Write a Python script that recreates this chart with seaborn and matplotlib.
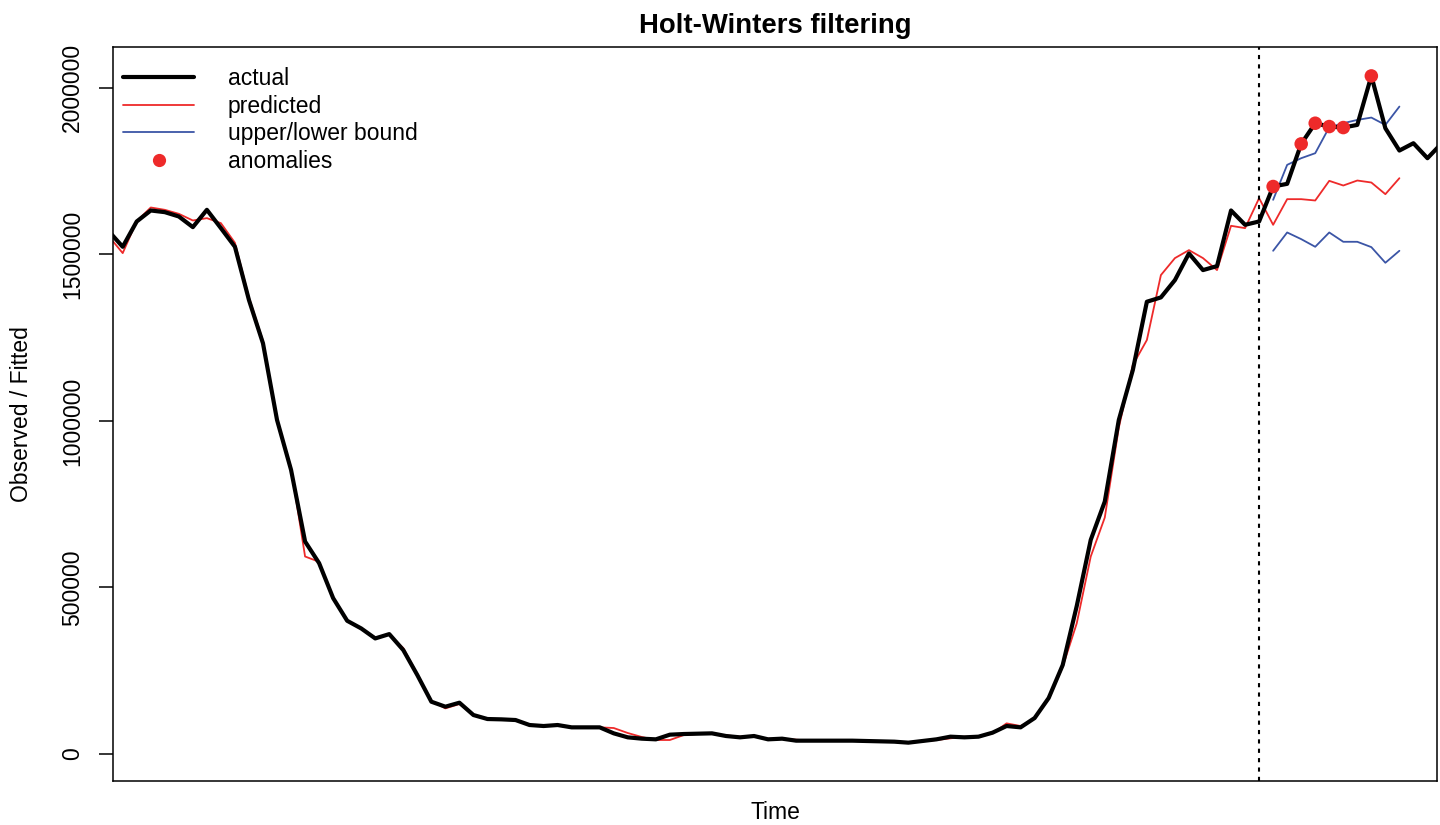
import matplotlib
matplotlib.use("Agg")
import matplotlib.pyplot as plt
from matplotlib.lines import Line2D
import seaborn as sns
import pandas as pd

# ---------------- data ----------------
actual = [
    1570000, 1523000, 1599000, 1632000, 1627000, 1614000, 1582000, 1634000, 1579000, 1523000,
    1363000, 1233000, 1003000, 853000, 638000, 573000, 468000, 400000, 377000, 347000,
    360000, 312000, 237000, 157000, 142000, 154000, 117000, 105000, 104000, 102000,
    87000, 84000, 87000, 80000, 80000, 80000, 62000, 50000, 46000, 44000,
    58000, 60000, 61000, 62000, 54000, 50000, 54000, 44000, 46000, 40000,
    40000, 40000, 40000, 40000, 39000, 38000, 37000, 34000, 39000, 44000,
    52000, 50000, 52000, 64000, 84000, 80000, 108000, 168000, 267000, 444000,
    643000, 758000, 1003000, 1153000, 1358000, 1371000, 1423000, 1503000, 1453000, 1465000,
    1632000, 1589000, 1599000, 1704000, 1712000, 1832000, 1894000, 1884000, 1881000, 1889000,
    2036000, 1879000, 1812000, 1834000, 1789000, 1833000,
]
predicted = [
    1555000, 1504000, 1600000, 1641000, 1634000, 1622000, 1602000, 1609000, 1594000, 1535000,
    1370000, 1240000, 1000000, 860000, 593000, 577000, 470000, 402000, 375000, 350000,
    358000, 318000, 240000, 160000, 137000, 150000, 118000, 106000, 104000, 101000,
    88000, 84000, 86000, 81000, 80000, 80000, 78000, 63000, 51000, 42000,
    42000, 57000, 60000, 61000, 56000, 52000, 53000, 46000, 45000, 43000,
    40000, 40000, 40000, 40000, 39000, 38000, 37000, 35000, 38000, 42000,
    47000, 52000, 51000, 62000, 92000, 84000, 106000, 165000, 262000, 392000,
    593000, 710000, 980000, 1168000, 1243000, 1438000, 1489000, 1513000, 1489000, 1453000,
    1586000, 1579000, 1669000, 1589000, 1666000, 1666000, 1662000, 1721000, 1707000, 1722000,
    1716000, 1681000, 1729000,
]
upper = [1664000, 1769000, 1789000, 1804000, 1882000, 1894000, 1904000, 1911000, 1889000, 1944000]
lower = [1511000, 1566000, 1546000, 1523000, 1566000, 1538000, 1538000, 1522000, 1475000, 1511000]
bound_start = 83          # first time index with bounds
forecast_start = 82       # dotted line position
anomaly_idx = [83, 85, 86, 87, 88, 90]
yticks = [0, 500000, 1000000, 1500000, 2000000]
ytick_labels = ["0", "500000", "1000000", "1500000", "2000000"]

time_idx = list(range(len(actual)))
df_act = pd.DataFrame({"t": time_idx, "v": actual})
df_pred = pd.DataFrame({"t": time_idx[:len(predicted)], "v": predicted})
bt = time_idx[bound_start:bound_start + len(upper)]
df_up = pd.DataFrame({"t": bt, "v": upper})
df_lo = pd.DataFrame({"t": bt, "v": lower})
df_an = pd.DataFrame({"t": anomaly_idx, "v": [actual[i] for i in anomaly_idx]})

RED = "#EE2A2A"
BLUE = "#3B55A6"

# ---------------- figure ----------------
sns.set_theme(style="white")
plt.rcParams["font.family"] = ["Liberation Sans", "DejaVu Sans"]
plt.rcParams["text.color"] = "black"
plt.rcParams["axes.labelcolor"] = "black"
plt.rcParams["xtick.color"] = "black"
plt.rcParams["ytick.color"] = "black"

W, H = 1440, 825
fig = plt.figure(figsize=(W / 100, H / 100), dpi=100)
L, R, T, B = 113.3, 1437.0, 47.3, 780.7
ax = fig.add_axes([L / W, (H - B) / H, (R - L) / W, (B - T) / H])

sns.lineplot(data=df_pred, x="t", y="v", color=RED, linewidth=1.3, sort=False, estimator=None, ax=ax)
sns.lineplot(data=df_up, x="t", y="v", color=BLUE, linewidth=1.3, sort=False, estimator=None, ax=ax)
sns.lineplot(data=df_lo, x="t", y="v", color=BLUE, linewidth=1.3, sort=False, estimator=None, ax=ax)
sns.lineplot(data=df_act, x="t", y="v", color="black", linewidth=3.0, sort=False, estimator=None, ax=ax)
sns.scatterplot(data=df_an, x="t", y="v", color=RED, s=95, edgecolor="none", ax=ax, zorder=5)
ax.axvline(forecast_start, color="black", linewidth=1.5, linestyle=(0, (2, 2.5)))

ax.set_xlim(0.33, 94.68)
ax.set_ylim(-80200, 2122000)
ax.set_xticks([])
ax.set_yticks(yticks)
ax.set_yticklabels(ytick_labels, rotation=90, va="center", fontsize=16.5, color="black")
ax.tick_params(axis="y", left=True, length=10, width=1.1, direction="out", pad=11, colors="black")

for s in ax.spines.values():
    s.set_color("black")
    s.set_linewidth(1.1)

ax.set_title("Holt-Winters filtering", fontsize=19.8, fontweight="bold", pad=10, color="black")
ax.set_xlabel("Time", fontsize=16.5, color="black")
ax.set_ylabel("Observed / Fitted", fontsize=16.5, color="black")
ax.xaxis.set_label_coords(0.5, (B - 801) / (B - T))
ax.yaxis.set_label_coords((33 - L) / (R - L), 0.5)

handles = [
    Line2D([], [], color="black", linewidth=3.0),
    Line2D([], [], color=RED, linewidth=1.3),
    Line2D([], [], color=BLUE, linewidth=1.3),
    Line2D([], [], color=RED, marker="o", markersize=9.5, linestyle="none", markeredgewidth=0),
]
labels = ["actual", "predicted", "upper/lower bound", "anomalies"]
ax.legend(handles, labels, loc="upper left", bbox_to_anchor=((123 - L) / (R - L), 1 - (67 - T) / (B - T)),
          frameon=False, handlelength=3.1, handletextpad=1.48, labelspacing=0.2,
          fontsize=16.5, borderaxespad=0, borderpad=0)

fig.savefig("out.png", dpi=100)
